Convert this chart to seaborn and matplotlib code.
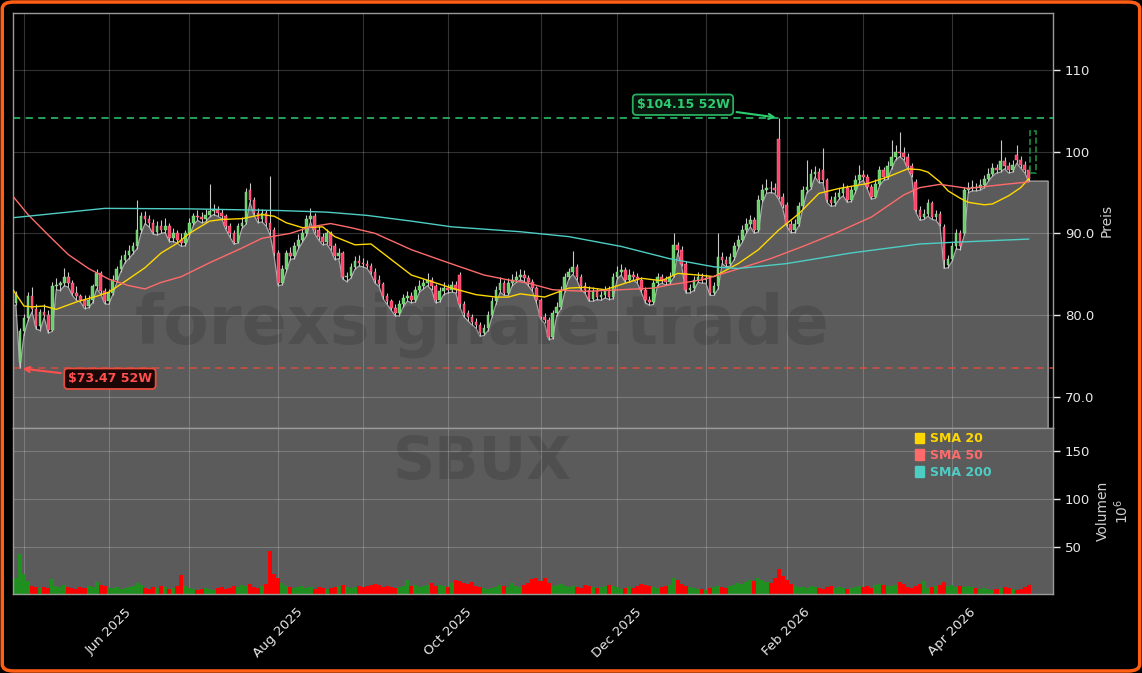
#!/usr/bin/env python3
"""SBUX daily candles with SMA 20/50/200, 52W high/low marks and volume panel."""
import matplotlib
matplotlib.use("Agg")
import matplotlib.pyplot as plt
import matplotlib.ticker as mticker
from matplotlib.patches import FancyBboxPatch, Rectangle, Patch
import numpy as np
import pandas as pd
import seaborn as sns

sns.set_theme(style="dark")
plt.rcParams["font.family"] = ["DejaVu Sans"]

# ---- data (one row per ~month of trading days) ----
opens = [
    81.5, 74.3, 78.0, 79.6, 82.3, 80.7, 78.6, 80.4, 80.0, 78.2, 83.5, 83.7, 83.9, 84.7, 83.9, 82.7, 82.3, 81.9, 81.1, 81.9, 83.5,
    85.1, 82.9, 81.7, 82.7, 84.3, 85.6, 86.8, 87.3, 87.8, 88.4, 90.4, 92.1, 91.7, 91.3, 90.2, 90.9, 90.4, 90.9, 89.4, 90.0, 89.2,
    88.8, 90.0, 91.3, 92.1, 92.0, 91.7, 92.3, 92.7, 92.9, 92.5, 92.1, 90.9, 90.0, 89.0, 90.9, 91.4, 95.3, 94.1, 92.5, 91.7, 92.5,
    91.3, 90.4, 87.6, 83.9, 85.6, 87.6, 87.2, 88.4, 89.2, 90.0, 91.7, 92.1, 90.4, 89.6, 89.0, 90.0, 88.4, 87.2, 87.6, 84.7, 84.8,
    85.9, 86.6, 86.4, 86.3, 86.0, 85.3, 84.3, 83.8, 82.3, 81.7, 80.9, 80.2, 81.3, 82.1, 82.3, 81.9, 83.1, 83.5, 83.9, 84.3, 83.5,
    81.9, 82.9, 83.3, 83.1, 83.7, 84.9, 81.3, 80.2, 79.7, 79.2, 78.8, 77.8, 78.4, 80.0, 81.7, 83.1, 83.9, 82.7, 83.9, 84.3, 84.7,
    84.9, 84.5, 84.0, 83.3, 81.8, 79.8, 79.4, 77.3, 80.2, 81.0, 83.1, 84.7, 85.3, 85.9, 84.7, 83.5, 83.1, 82.0, 82.9, 82.2, 82.4,
    83.1, 82.2, 84.7, 85.3, 85.5, 84.3, 84.9, 84.7, 84.3, 83.1, 81.8, 81.6, 83.9, 84.7, 84.3, 84.1, 84.9, 88.6, 88.0, 86.3, 83.1,
    83.3, 84.3, 84.7, 84.3, 84.5, 82.7, 83.5, 87.1, 86.7, 86.3, 87.1, 88.4, 89.2, 90.4, 91.2, 91.6, 90.4, 94.1, 95.3, 95.6, 95.5,
    101.6, 94.5, 93.5, 91.2, 90.4, 91.2, 93.3, 95.3, 95.7, 97.3, 97.5, 97.8, 96.5, 94.1, 93.7, 94.5, 94.9, 95.5, 94.1, 95.3, 96.5,
    97.1, 96.9, 95.7, 94.5, 96.1, 97.8, 96.9, 98.2, 99.4, 100.0, 99.8, 99.4, 98.2, 96.3, 92.9, 92.0, 92.4, 93.7, 92.0, 92.4, 90.8,
    86.1, 86.9, 88.4, 90.0, 90.0, 95.3, 95.5, 95.7, 95.6, 95.9, 96.7, 97.3, 98.0, 97.8, 98.8, 98.2, 97.8, 99.6, 99.0, 98.4, 97.8,
]
highs = [
    83.0, 78.4, 80.1, 82.8, 83.4, 81.3, 80.8, 81.3, 80.6, 84.0, 84.5, 84.2, 85.8, 85.3, 84.3, 83.6, 82.6, 82.5, 82.5, 83.8, 85.6,
    85.4, 83.3, 83.2, 84.9, 86.0, 87.4, 88.0, 88.6, 88.9, 94.1, 92.6, 92.7, 92.3, 91.8, 91.5, 91.6, 91.9, 91.3, 90.7, 90.4, 90.0,
    90.4, 91.9, 92.5, 92.9, 92.6, 93.0, 96.0, 93.6, 93.4, 93.0, 92.4, 91.3, 90.4, 91.3, 92.0, 95.6, 96.2, 94.5, 93.1, 93.0, 92.9,
    97.0, 90.8, 88.0, 86.1, 88.0, 88.3, 88.9, 89.9, 90.6, 92.2, 93.1, 92.5, 90.9, 90.1, 90.5, 90.3, 88.8, 88.2, 87.9, 85.3, 86.4,
    87.2, 87.3, 87.0, 86.8, 86.4, 85.7, 84.9, 84.1, 82.7, 82.0, 81.3, 81.8, 82.6, 83.0, 82.8, 83.6, 84.3, 84.4, 85.1, 84.7, 83.8,
    83.4, 84.0, 83.8, 84.2, 84.2, 85.3, 81.7, 80.6, 80.1, 79.6, 79.1, 78.9, 80.5, 82.2, 83.5, 84.6, 84.3, 84.5, 85.0, 85.4, 85.6,
    85.5, 84.9, 84.4, 83.6, 82.1, 80.3, 79.7, 80.6, 81.6, 83.5, 85.2, 85.8, 87.8, 86.3, 85.0, 84.0, 83.5, 83.4, 83.3, 83.0, 83.6,
    83.5, 85.2, 86.0, 86.2, 85.9, 85.6, 85.4, 85.1, 84.7, 83.4, 82.3, 84.3, 85.2, 85.0, 84.8, 85.3, 90.0, 89.0, 88.4, 86.6, 83.8,
    84.8, 85.3, 85.1, 85.0, 84.8, 84.0, 90.0, 87.7, 87.2, 87.6, 88.9, 89.8, 91.0, 91.9, 92.3, 92.0, 94.7, 96.0, 96.6, 96.4, 96.2,
    104.15, 95.0, 93.8, 91.6, 91.8, 93.9, 95.8, 99.0, 97.9, 98.2, 98.0, 100.4, 96.8, 94.6, 95.1, 95.6, 96.2, 95.9, 95.8, 97.2, 98.4,
    97.8, 97.3, 96.0, 96.6, 98.3, 98.1, 98.8, 101.4, 100.8, 102.4, 100.6, 99.8, 98.6, 96.7, 93.4, 93.0, 94.2, 94.0, 92.9, 92.7, 91.1,
    87.3, 88.9, 90.5, 90.4, 95.7, 96.3, 96.5, 96.2, 96.6, 97.2, 98.0, 98.6, 98.5, 101.4, 99.4, 98.7, 99.0, 100.8, 99.5, 98.9, 98.3,
]
lows = [
    81.2, 73.47, 77.6, 79.3, 80.4, 78.3, 78.1, 79.7, 77.8, 78.0, 83.1, 83.0, 83.6, 83.4, 82.4, 81.8, 81.6, 80.8, 80.9, 81.5, 83.2,
    82.6, 81.4, 81.3, 82.5, 84.0, 85.3, 86.4, 86.9, 87.5, 88.1, 90.0, 91.2, 90.8, 89.9, 89.8, 90.0, 90.1, 89.0, 89.0, 88.8, 88.4,
    88.5, 89.7, 91.0, 91.6, 91.3, 91.4, 92.0, 92.3, 92.1, 91.8, 90.5, 89.6, 88.7, 88.8, 90.6, 91.1, 93.8, 92.2, 91.3, 91.4, 90.9,
    89.8, 87.2, 83.6, 83.7, 85.3, 86.8, 86.9, 88.1, 88.9, 89.7, 91.4, 90.0, 89.2, 88.6, 88.7, 88.0, 86.8, 86.9, 84.4, 84.1, 84.5,
    85.6, 86.0, 85.9, 85.7, 85.0, 83.9, 83.5, 82.0, 81.3, 80.6, 79.9, 79.9, 81.0, 81.7, 81.5, 81.6, 82.8, 83.2, 83.6, 83.1, 81.5,
    81.6, 82.5, 82.7, 82.8, 82.7, 81.0, 79.8, 79.3, 78.8, 78.4, 77.4, 77.5, 78.1, 79.8, 81.4, 82.8, 82.4, 82.4, 83.6, 84.0, 84.3,
    84.1, 83.6, 82.9, 81.5, 79.5, 79.0, 77.0, 77.1, 79.9, 80.7, 82.8, 84.4, 85.0, 84.3, 83.1, 82.7, 81.7, 81.7, 81.9, 81.8, 82.1,
    81.9, 82.0, 84.4, 84.9, 84.0, 84.0, 84.3, 83.9, 82.8, 81.5, 81.2, 81.3, 83.6, 83.9, 83.7, 83.8, 84.6, 87.6, 86.0, 82.7, 82.7,
    83.0, 84.0, 83.9, 83.9, 82.4, 82.4, 83.2, 86.3, 85.9, 86.0, 86.8, 88.1, 88.9, 90.0, 90.8, 90.0, 90.2, 93.8, 94.9, 95.0, 94.9,
    94.2, 93.1, 90.9, 90.1, 90.1, 90.9, 93.0, 95.0, 95.4, 96.9, 96.2, 96.2, 93.8, 93.3, 93.4, 94.2, 94.6, 93.8, 93.9, 95.0, 96.2,
    96.5, 95.4, 94.2, 94.3, 95.8, 96.5, 96.6, 97.9, 99.0, 99.4, 99.0, 97.9, 96.9, 92.6, 91.6, 91.7, 92.1, 91.7, 91.6, 90.9, 85.7,
    85.8, 86.6, 88.1, 88.0, 89.8, 95.0, 95.2, 95.2, 95.3, 95.6, 96.4, 97.0, 97.4, 97.5, 97.9, 97.4, 97.5, 98.6, 98.0, 97.4, 96.4,
]
closes = [
    82.6, 78.0, 79.6, 82.3, 80.7, 78.6, 80.4, 80.0, 78.2, 83.5, 83.7, 83.9, 84.7, 83.9, 82.7, 82.3, 81.9, 81.1, 81.9, 83.5, 85.1,
    82.9, 81.7, 82.7, 84.3, 85.6, 86.8, 87.3, 87.8, 88.4, 90.4, 92.1, 91.7, 91.3, 90.2, 90.9, 90.4, 90.9, 89.4, 90.0, 89.2, 88.8,
    90.0, 91.3, 92.1, 92.0, 91.7, 92.3, 92.7, 92.9, 92.5, 92.1, 90.9, 90.0, 89.0, 90.9, 91.3, 95.1, 94.1, 92.5, 91.7, 92.5, 91.3,
    90.4, 87.6, 83.9, 85.6, 87.6, 87.2, 88.4, 89.2, 90.0, 91.7, 92.1, 90.4, 89.6, 89.0, 90.0, 88.4, 87.2, 87.6, 84.7, 84.8, 85.9,
    86.6, 86.4, 86.3, 86.0, 85.3, 84.3, 83.8, 82.3, 81.7, 80.9, 80.2, 81.3, 82.1, 82.3, 81.9, 83.1, 83.5, 83.9, 84.3, 83.5, 81.9,
    82.9, 83.3, 83.1, 83.7, 83.1, 81.3, 80.2, 79.7, 79.2, 78.8, 77.8, 78.4, 80.0, 81.7, 83.1, 83.9, 82.7, 83.9, 84.3, 84.7, 84.9,
    84.5, 84.0, 83.3, 81.8, 79.8, 79.4, 77.3, 80.2, 81.0, 83.1, 84.7, 85.3, 85.9, 84.7, 83.5, 83.1, 82.0, 82.9, 82.2, 82.4, 83.1,
    82.2, 84.7, 85.3, 85.5, 84.3, 84.9, 84.7, 84.3, 83.1, 81.8, 81.6, 83.9, 84.7, 84.3, 84.1, 84.7, 88.6, 88.0, 86.3, 83.1, 83.3,
    84.3, 84.7, 84.3, 84.5, 82.7, 83.5, 87.1, 86.7, 86.3, 87.1, 88.4, 89.2, 90.4, 91.2, 91.6, 90.4, 94.1, 95.3, 95.6, 95.5, 95.3,
    94.5, 93.5, 91.2, 90.4, 91.2, 93.3, 95.3, 95.7, 97.3, 97.5, 96.5, 96.5, 94.1, 93.7, 94.5, 94.9, 95.5, 94.1, 95.3, 96.5, 97.1,
    96.9, 95.7, 94.5, 96.1, 97.8, 96.9, 98.2, 99.4, 100.0, 99.8, 99.4, 98.2, 97.3, 92.9, 92.0, 92.4, 93.7, 92.0, 92.4, 91.2, 86.7,
    86.9, 88.4, 90.0, 88.4, 95.3, 95.5, 95.7, 95.6, 95.9, 96.7, 97.3, 98.0, 97.8, 98.8, 98.2, 97.8, 98.4, 99.0, 98.4, 97.8, 96.7,
]
# volume in millions of shares
volume = [
    18, 43, 22, 14, 9, 8, 7, 8, 7, 16, 9, 8, 10, 8, 7, 6, 8, 7, 9, 8, 13,
    10, 9, 7, 7, 8, 6, 7, 8, 9, 12, 10, 7, 6, 8, 7, 9, 8, 6, 7, 9, 21,
    9, 7, 6, 5, 6, 7, 6, 5, 7, 8, 6, 7, 9, 8, 10, 9, 11, 8, 7, 9, 11,
    46, 22, 17, 12, 9, 8, 7, 8, 9, 7, 8, 6, 8, 7, 6, 7, 8, 9, 10, 8, 7,
    8, 9, 8, 9, 10, 11, 10, 8, 9, 8, 7, 8, 9, 15, 9, 10, 8, 9, 10, 12, 9,
    10, 9, 8, 12, 15, 14, 12, 11, 13, 9, 8, 7, 6, 7, 8, 10, 9, 8, 12, 9, 8,
    10, 12, 16, 18, 14, 18, 12, 9, 10, 11, 9, 8, 9, 8, 7, 10, 9, 8, 7, 8, 9,
    10, 9, 8, 6, 7, 8, 7, 9, 11, 10, 9, 8, 7, 8, 9, 10, 17, 15, 11, 9, 8,
    7, 6, 6, 5, 7, 8, 9, 8, 7, 9, 10, 12, 11, 13, 15, 14, 17, 15, 13, 12, 18,
    27, 20, 15, 11, 9, 8, 8, 7, 9, 8, 7, 6, 8, 9, 7, 8, 7, 6, 7, 8, 9,
    8, 9, 7, 10, 11, 10, 9, 9, 10, 13, 11, 8, 7, 9, 11, 14, 7, 8, 9, 10, 13,
    9, 10, 8, 9, 8, 9, 8, 7, 6, 7, 6, 5, 6, 7, 8, 7, 6, 5, 6, 8, 10,
]

# moving averages (trading-day index, value)
sma20_days = [-1, 2, 4, 7, 10, 15, 20, 23, 27, 32, 36, 40, 43, 48, 51, 56, 61, 64, 67, 71,
              76, 79, 84, 88, 93, 98, 103, 108, 114, 119, 122, 125, 131, 137, 141, 146, 151, 155, 160, 164,
              169, 173, 176, 179, 184, 189, 194, 199, 204, 211, 216, 221, 224, 226, 229, 231, 234, 236, 240, 242,
              246, 249, 251]
sma20_vals = [83.3, 81.1, 81.0, 81.1, 80.7, 81.6, 82.3, 82.8, 84.1, 85.8, 87.6, 88.8, 90.0, 91.5, 91.7, 91.8, 92.3, 92.1, 91.3, 90.7,
              90.8, 89.6, 88.6, 88.7, 86.8, 84.9, 84.1, 83.3, 82.5, 82.2, 82.2, 82.6, 82.2, 83.3, 83.4, 83.1, 83.9, 84.5, 84.2, 85.1,
              84.9, 84.7, 85.5, 86.3, 88.0, 90.4, 92.4, 94.9, 95.5, 96.1, 96.9, 97.9, 97.8, 97.5, 96.3, 95.2, 94.3, 93.8, 93.5, 93.6,
              94.6, 95.6, 96.7]
sma50_days = [-1, 3, 8, 13, 18, 23, 28, 32, 36, 41, 48, 56, 61, 68, 73, 78, 83, 89, 98, 106,
              116, 122, 127, 133, 141, 150, 158, 162, 170, 178, 187, 195, 203, 212, 220, 224, 229, 236, 245, 251]
sma50_vals = [94.7, 92.3, 89.8, 87.4, 85.7, 84.4, 83.6, 83.2, 84.0, 84.7, 86.4, 88.2, 89.4, 90.0, 90.8, 91.2, 90.7, 90.0, 88.0, 86.6,
              84.9, 84.3, 83.9, 83.1, 82.9, 83.1, 83.3, 83.7, 84.3, 85.5, 86.9, 88.4, 90.0, 92.0, 94.7, 95.6, 96.0, 95.5, 96.0, 96.3]
sma200_days = [-1, 22, 43, 65, 77, 87, 98, 108, 125, 137, 150, 162, 173, 179, 191, 207, 224, 232, 251]
sma200_vals = [91.9, 93.06, 93.0, 92.8, 92.6, 92.2, 91.5, 90.8, 90.2, 89.6, 88.4, 86.9, 85.9, 85.7, 86.3, 87.6, 88.7, 88.9, 89.3]

high_52w = 104.15
low_52w = 73.47
next_range = (97.4, 102.5)  # dashed box right of the last candle
holidays = ["2025-05-26", "2025-06-19", "2025-07-04", "2025-09-01", "2025-11-27",
            "2025-12-25", "2026-01-01", "2026-01-19", "2026-02-16", "2026-04-03"]

n = len(closes)
assert len(opens) == len(highs) == len(lows) == len(volume) == n
dates = pd.bdate_range("2025-04-29", periods=n, freq="C", holidays=holidays)
days = np.arange(n)
o, h, l, c = map(np.asarray, (opens, highs, lows, closes))
up = c >= o

BG = "black"
FILL = "#5b5b5b"
SPINE = "#9a9a9a"
COL20, COL50, COL200 = "#FFD700", "#FF6B6B", "#4ECDC4"

fig = plt.figure(figsize=(11.42, 6.73), dpi=100, facecolor=BG)
ax = fig.add_axes([13 / 1142, 1 - 428 / 673, 1040 / 1142, 415 / 673])
axv = fig.add_axes([13 / 1142, 1 - 594 / 673, 1040 / 1142, 166 / 673])
ax.set_facecolor(BG)
axv.set_facecolor(FILL)

# grey area under the lows, carried flat a few sessions past the last bar
xf = np.r_[-2, days, n + 3.8]
yf = np.r_[l[0], l, l[-1]]
ax.fill_between(xf, yf, 0, facecolor=FILL, edgecolor="#a8a8a8", linewidth=0.9, zorder=0.3)

ax.text(0.451, 0.25, "forexsignale.trade", transform=ax.transAxes, fontsize=48,
        fontweight="bold", color="black", alpha=0.13, ha="center", va="center", zorder=0.4)
axv.text(0.451, 0.79, "SBUX", transform=axv.transAxes, fontsize=42,
         fontweight="bold", color="black", alpha=0.13, ha="center", va="center", zorder=0.4)

# candles
ax.vlines(days, l, h, color="#c8c8c8", linewidth=0.8, zorder=3)
body = np.maximum(np.abs(c - o), 0.08)
ax.bar(days, body, bottom=np.minimum(o, c), width=0.65,
       color=np.where(up, "#66d166", "#ff3f66"),
       edgecolor=np.where(up, "#a6e6a6", "#ff99ad"), linewidth=0.3, zorder=3.5)

# moving averages
sns.lineplot(x=sma20_days, y=sma20_vals, ax=ax, color=COL20, linewidth=1.0, zorder=4)
sns.lineplot(x=sma50_days, y=sma50_vals, ax=ax, color=COL50, linewidth=1.0, zorder=4)
sns.lineplot(x=sma200_days, y=sma200_vals, ax=ax, color=COL200, linewidth=1.0, zorder=4)

# 52-week levels
ax.axhline(high_52w, color="#27ae60", linestyle=(0, (4, 3)), linewidth=1.3, zorder=2)
ax.axhline(low_52w, color="#e74c3c", linestyle=(0, (4, 3)), linewidth=1.3, alpha=0.75, zorder=2)
hi_day = int(np.argmax(h))
lo_day = int(np.argmin(l))
ax.annotate(r"\$%.2f 52W" % high_52w, xy=(hi_day, high_52w), xytext=(165.3, 105.75),
            ha="center", va="center", color="#2ecc71", fontsize=9, fontweight="bold",
            bbox=dict(boxstyle="round,pad=0.3", fc="#08160d", ec="#27ae60", lw=1.3),
            arrowprops=dict(arrowstyle="->", color="#2ecc71", lw=1.5), zorder=6)
ax.annotate(r"\$%.2f 52W" % low_52w, xy=(lo_day, low_52w), xytext=(23.3, 72.2),
            ha="center", va="center", color="#ff5050", fontsize=9, fontweight="bold",
            bbox=dict(boxstyle="round,pad=0.3", fc="#1c0707", ec="#e74c3c", lw=1.3),
            arrowprops=dict(arrowstyle="->", color="#ff5050", lw=1.5), zorder=6)
ax.add_patch(Rectangle((n - 0.7, next_range[0]), 1.6, next_range[1] - next_range[0],
                       fill=False, edgecolor="#1e8a40", linestyle="--", linewidth=1.2, zorder=5))

# volume
axv.bar(days, volume, width=1.0, color=np.where(up, "#1f8f1f", "#ff0000"),
        linewidth=0, zorder=2)

# axes styling
month_starts = [i for i in range(1, n) if dates[i].month != dates[i - 1].month]
month_labels = [dates[i].strftime("%b %Y") if dates[i].month % 2 == 0 else "" for i in month_starts]

for a in (ax, axv):
    a.set_xlim(-0.72, 257.0)
    a.set_xticks(month_starts)
    a.grid(True, color="white", alpha=0.2, linewidth=0.8)
    a.set_axisbelow(True)
    a.yaxis.tick_right()
    a.yaxis.set_label_position("right")
    a.tick_params(axis="y", colors="#e8e8e8", labelsize=9.5, length=5, width=1, direction="out")
    for s in a.spines.values():
        s.set_color(SPINE)
        s.set_linewidth(1.0)
        s.set_visible(True)

ax.set_ylim(66.17, 116.98)
ax.set_yticks([70, 80, 90, 100, 110])
ax.yaxis.set_major_formatter(mticker.FuncFormatter(lambda v, _: f"{v:.0f}" if v >= 100 else f"{v:.1f}"))
ax.tick_params(axis="x", length=0, labelbottom=False)
ax.set_ylabel("Preis", color="#cfcfcf", fontsize=10, labelpad=4)

axv.set_ylim(0.8, 174)
axv.set_yticks([50, 100, 150])
axv.set_xticklabels(month_labels, rotation=45, ha="center")
axv.tick_params(axis="x", colors="#e8e8e8", labelsize=9.5, length=5, width=1)
axv.set_ylabel("Volumen\n$10^{6}$", color="#cfcfcf", fontsize=10, labelpad=4)

handles = [Patch(color=COL20, label="SMA 20"), Patch(color=COL50, label="SMA 50"),
           Patch(color=COL200, label="SMA 200")]
leg = axv.legend(handles=handles, loc="upper left", bbox_to_anchor=(0.86, 1.02), frameon=False,
                 fontsize=9, handlelength=0.7, handleheight=0.9, handletextpad=0.5,
                 labelspacing=0.3, borderaxespad=0.2)
for txt, col in zip(leg.get_texts(), (COL20, COL50, COL200)):
    txt.set_color(col)
    txt.set_fontweight("bold")

# orange rounded frame around the whole picture
fig.patches.append(FancyBboxPatch((0.002, 0.003), 0.996, 0.994, transform=fig.transFigure,
                                  boxstyle="round,pad=0,rounding_size=0.01",
                                  facecolor="none", edgecolor="#ff5e14", linewidth=2.5))

fig.savefig("out.png", dpi=100, facecolor=BG)
